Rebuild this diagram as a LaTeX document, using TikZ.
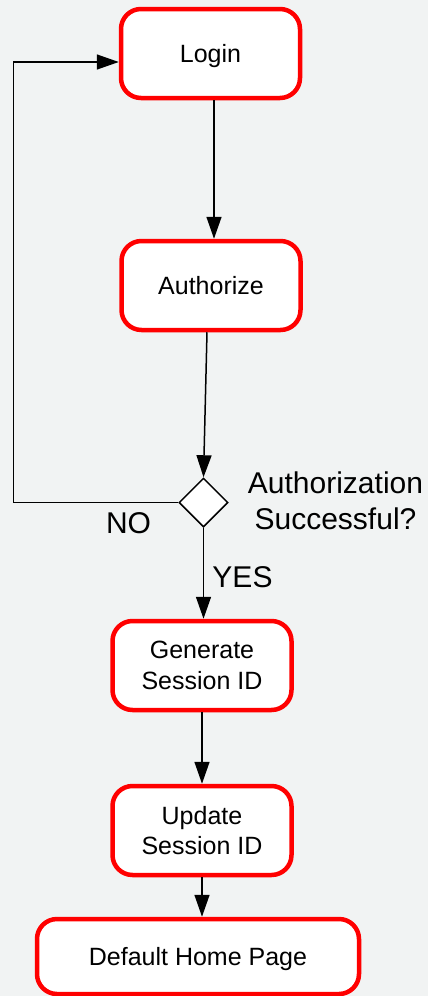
\documentclass[tikz,border=0pt]{standalone}
\usepackage{fontspec}
\setmainfont{Liberation Sans}
\usetikzlibrary{arrows.meta,shapes.geometric}
\definecolor{pagebg}{RGB}{241,243,243}
\definecolor{boxred}{RGB}{255,0,0}
\begin{document}
\begin{tikzpicture}[x=1pt,y=-1pt,
  stepbox/.style={draw=boxred, line width=4.5pt, fill=white, rounded corners=20pt,
    minimum width=179, minimum height=89, inner sep=0pt, align=center,
    font=\fontsize{25}{30.5}\selectfont},
  oneline/.style={text height=18pt, text depth=0pt},
  decision/.style={diamond, draw=black, line width=1.5pt, fill=white,
    minimum width=49, minimum height=49, inner sep=0pt},
  flow/.style={draw=black, line width=1.5pt, -{Triangle[length=22pt,width=15pt]}},
  lbl/.style={inner sep=0pt, align=center, font=\fontsize{30}{36}\selectfont}]

% canvas
\fill[pagebg] (0,0) rectangle (428,996);
\useasboundingbox (0,0) rectangle (428,996);

% process boxes
\node[stepbox, oneline] (login) at (210.5,53.5) {Login};
\node[stepbox, oneline] (auth) at (211,285.5) {Authorize};
\node[decision] (check) at (203.5,502.5) {};
\node[stepbox] (gen) at (202,665.5) {Generate\\Session ID};
\node[stepbox] (upd) at (202,830.5) {Update\\Session ID};
\node[stepbox, oneline, minimum width=322, minimum height=75] (home) at (198,956.5) {Default Home Page};

% labels
\node[lbl] (question) at (335.5,501) {Authorization\\Successful?};
\node[lbl, anchor=base] (no) at (128.5,533) {NO};
\node[lbl, anchor=base] (yes) at (242.5,587) {YES};

% connectors
\draw[flow] ([xshift=3.5]login.south) -- ([xshift=3]auth.north);
\draw[flow] ([xshift=-4]auth.south) -- (check.north);
\coordinate (backlow) at (13.5,502.5);
\coordinate (backhigh) at (13.5,62);
\draw[flow] (check.west) -- (backlow) -- (backhigh) -- (backhigh -| login.west);
\draw[flow] (check.south) -- (check.south |- gen.north);
\draw[flow] (gen.south) -- (upd.north);
\draw[flow] (upd.south) -- (upd.south |- home.north);
\end{tikzpicture}
\end{document}
